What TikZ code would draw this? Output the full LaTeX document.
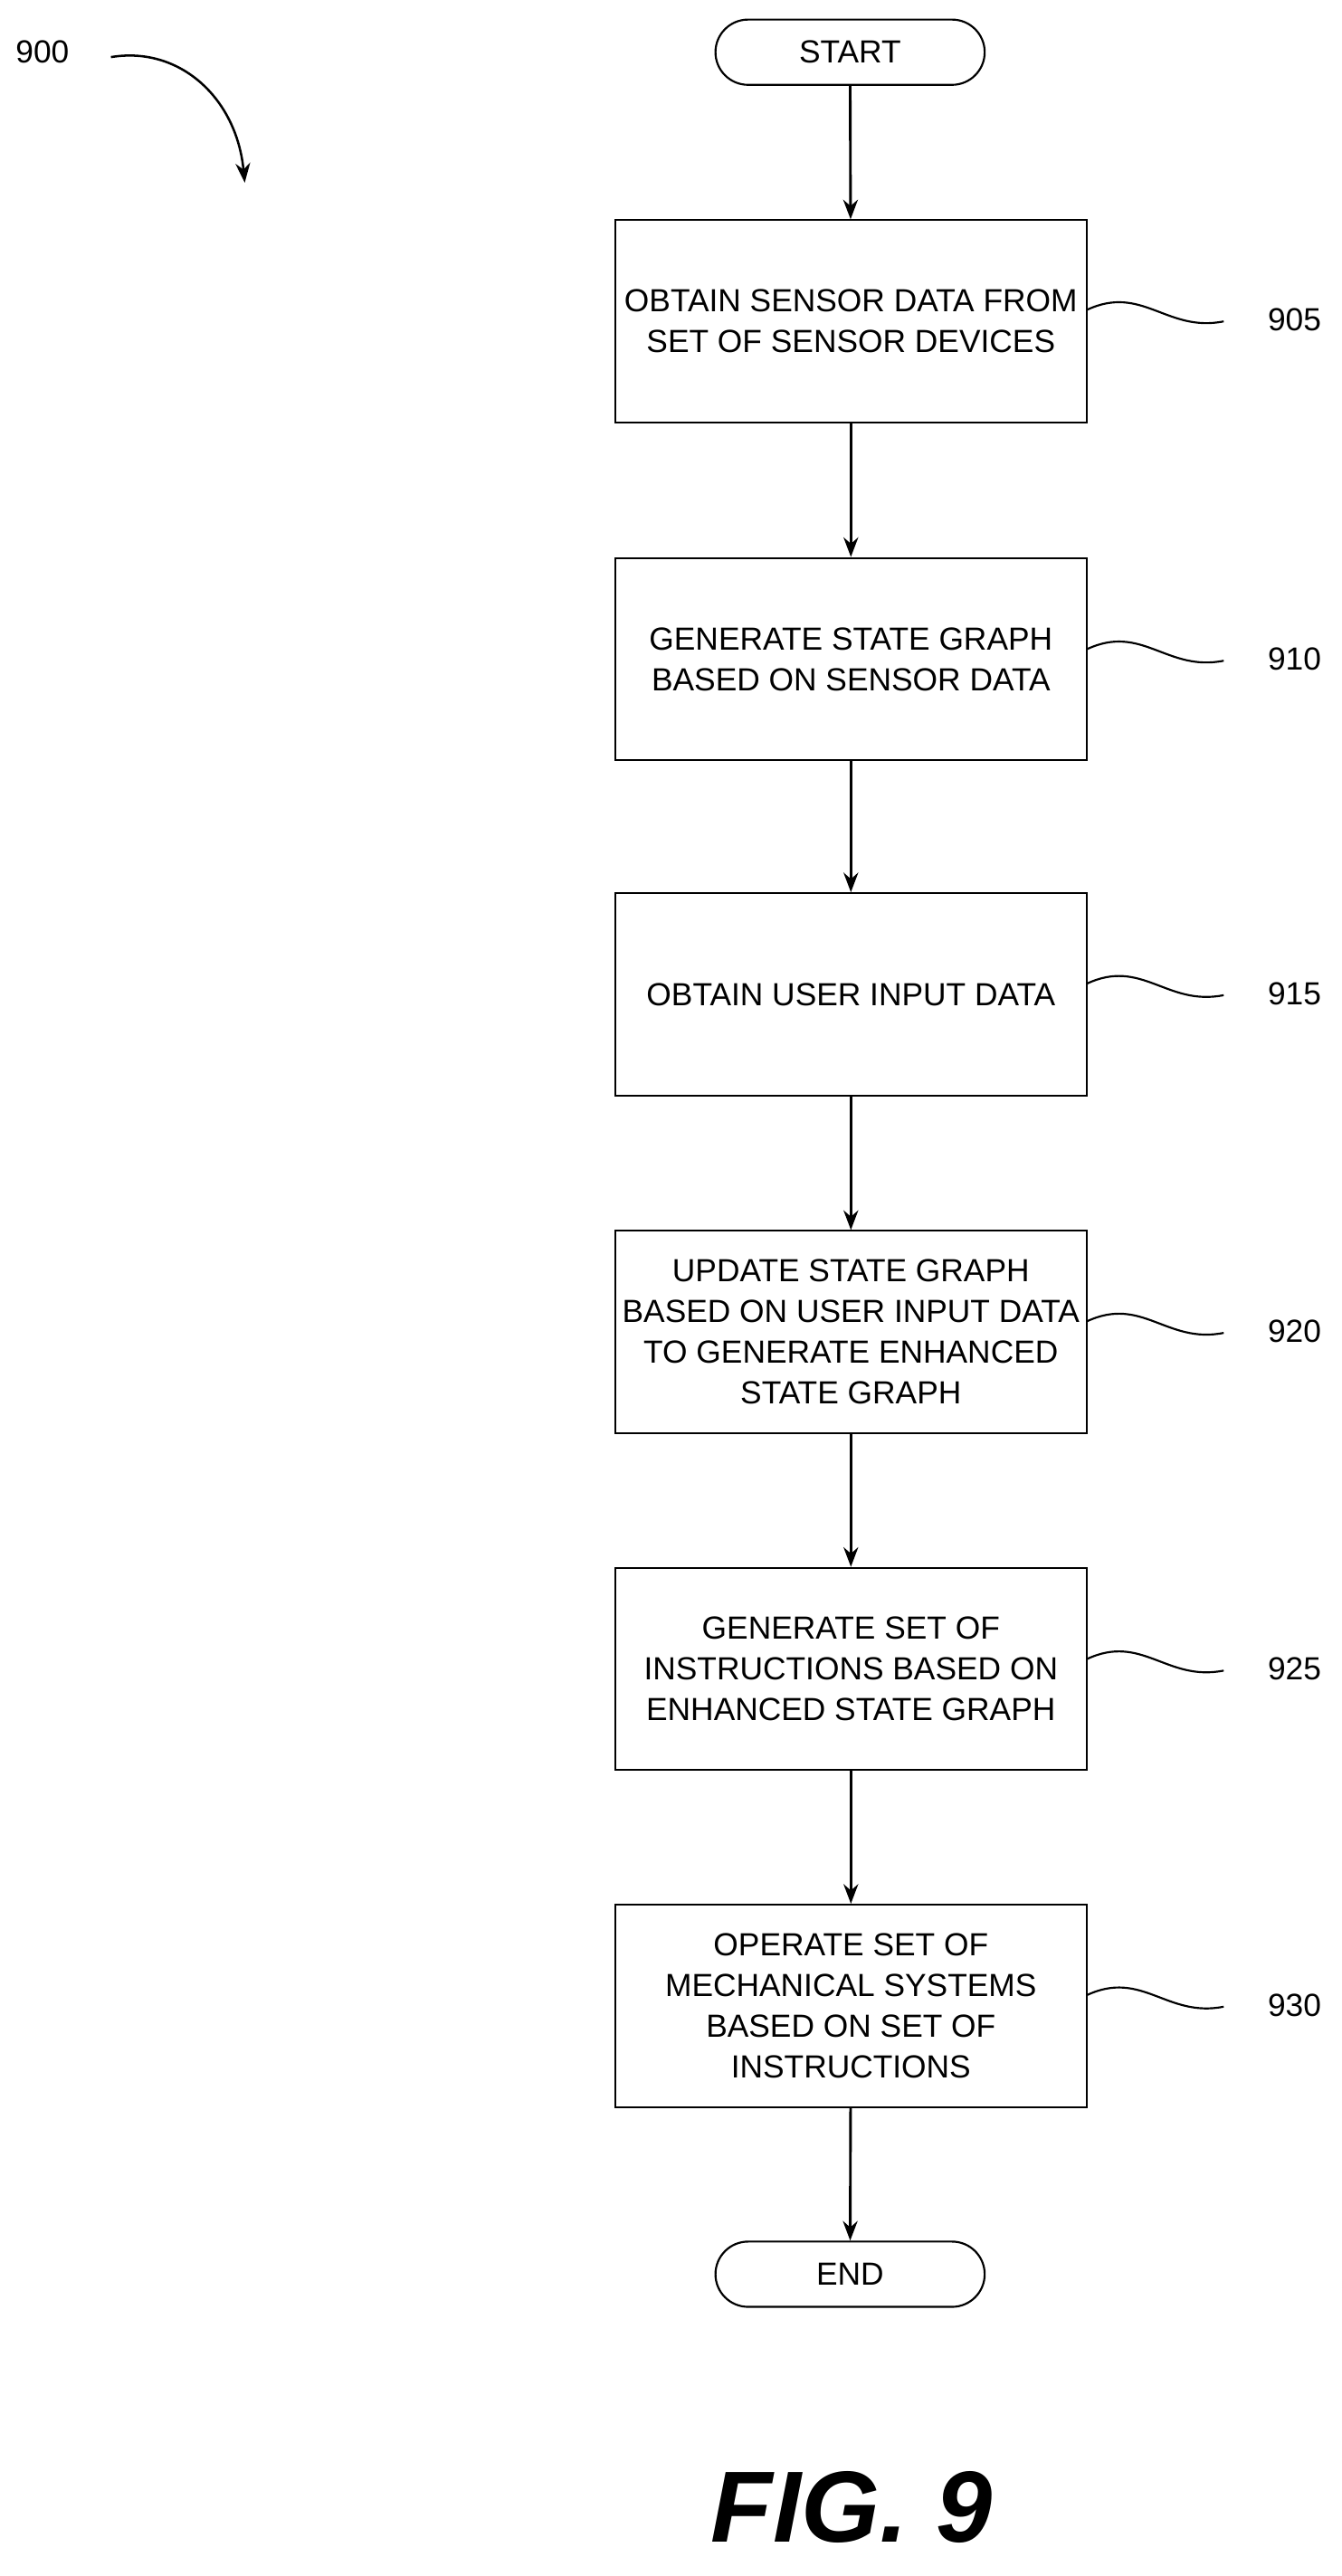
\documentclass[tikz,border=0pt]{standalone}
\usepackage{fontspec}
\setmainfont{Liberation Sans}
\usetikzlibrary{arrows.meta}
\begin{document}
\begin{tikzpicture}[x=0.5pt,y=-0.5pt,
  box/.style={draw,line width=0.6pt,minimum width=144.5pt,minimum height=62pt,align=center,font=\fontsize{9.8}{12.5}\selectfont,inner sep=1pt},
  term/.style={draw,line width=0.6pt,rounded corners=10pt,minimum width=82.5pt,minimum height=20pt,font=\fontsize{9.8}{12}\selectfont},
  arr/.style={-{Stealth[length=6pt,width=4.5pt]},line width=0.8pt},
  lab/.style={font=\fontsize{9.8}{12}\selectfont},
  sq/.style={line width=0.6pt}]
\useasboundingbox (0,0) rectangle (822,1579);
\node[term] (start) at (521,32) {START};
\node[box] (b1) at (521.5,197) {OBTAIN SENSOR DATA FROM\\SET OF SENSOR DEVICES};
\node[box] (b2) at (521.5,404) {GENERATE STATE GRAPH\\BASED ON SENSOR DATA};
\node[box] (b3) at (521.5,609.5) {OBTAIN USER INPUT DATA};
\node[box] (b4) at (521.5,816.5) {UPDATE STATE GRAPH\\BASED ON USER INPUT DATA\\TO GENERATE ENHANCED\\STATE GRAPH};
\node[box] (b5) at (521.5,1023) {GENERATE SET OF\\INSTRUCTIONS BASED ON\\ENHANCED STATE GRAPH};
\node[box] (b6) at (521.5,1229.5) {OPERATE SET OF\\MECHANICAL SYSTEMS\\BASED ON SET OF\\INSTRUCTIONS};
\node[term] (end) at (521,1394) {END};
\draw[arr] (start) -- (b1);
\draw[arr] (b1) -- (b2);
\draw[arr] (b2) -- (b3);
\draw[arr] (b3) -- (b4);
\draw[arr] (b4) -- (b5);
\draw[arr] (b5) -- (b6);
\draw[arr] (b6) -- (end);
\foreach \n/\t/\y in {b1/905/196,b2/910/404,b3/915/609,b4/920/816,b5/925/1023,b6/930/1229}{
  \node[lab,anchor=west] (l\t) at (770,\y) {\t};
  \coordinate (s\t) at (666,\y-6);
  \coordinate (e\t) at (750,\y+1);
  \draw[sq] (s\t) .. controls (700,\y-22) and (715,\y+8) .. (e\t);
}
\node[lab] (l900) at (26,32) {900};
\coordinate (c1) at (68,35);
\coordinate (c2) at (150,112);
\draw[arr,line width=0.7pt] (c1) .. controls (110,28) and (145,60) .. (c2);
\node[font=\bfseries\itshape\fontsize{31}{36}\selectfont] (fig) at (522,1537) {FIG. 9};
\end{tikzpicture}
\end{document}
